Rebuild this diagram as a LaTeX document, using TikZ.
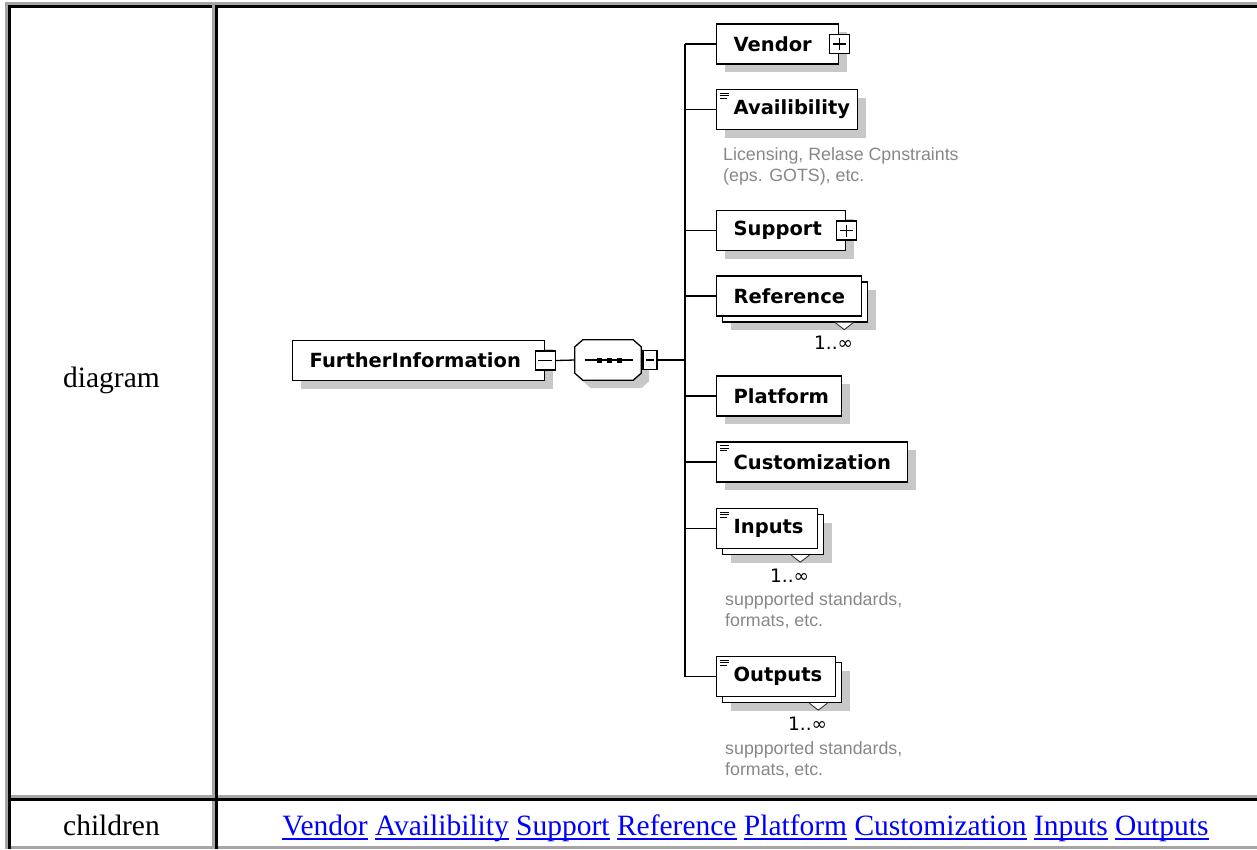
\documentclass[tikz,border=0pt]{standalone}
\usepackage{fontspec}
\usetikzlibrary{shadows}
\setmainfont{Liberation Serif}
\newfontfamily\lblfont{DejaVu Sans}
\newfontfamily\notefont{Liberation Sans}
\definecolor{shade}{RGB}{200,200,200}
\definecolor{framegray}{RGB}{165,165,165}
\definecolor{notegray}{RGB}{135,135,135}
\definecolor{linkblue}{RGB}{0,0,255}
% underlined hyperlink word, rule at a fixed depth
\newcommand\lnkw[1]{\setbox0=\hbox{#1}\rlap{\rule[-5pt]{\wd0}{2pt}}\box0\relax}
\begin{document}
\begin{tikzpicture}[x=1pt, y=-1pt,
  conn/.style={line width=1.3pt},
  elbase/.style={draw, line width=1.3pt, fill=white, minimum height=40pt,
    inner xsep=17pt, inner ysep=0pt, align=left, anchor=west,
    font=\lblfont\bfseries\fontsize{19.5}{22}\selectfont},
  el/.style={elbase, drop shadow={shadow xshift=8pt, shadow yshift=-8pt, fill=shade, draw=none, opacity=1}},
  multi/.style={elbase,
    drop shadow={shadow xshift=14pt, shadow yshift=-14pt, fill=shade, draw=none, opacity=1},
    copy shadow={shadow xshift=6pt, shadow yshift=-6pt, draw=black, fill=white, line width=1.3pt, opacity=1}},
  pmbox/.style={draw, line width=1.3pt, fill=white, minimum width=20pt, minimum height=19pt, inner sep=0pt},
  minusbox/.style={pmbox, path picture={
      \draw[line width=1.3pt] ([xshift=3pt]path picture bounding box.west) -- ([xshift=-3pt]path picture bounding box.east);}},
  plusbox/.style={pmbox, path picture={
      \draw[line width=1.3pt] ([xshift=3.5pt]path picture bounding box.west) -- ([xshift=-3.5pt]path picture bounding box.east);
      \draw[line width=1.3pt] ([yshift=-3.5pt]path picture bounding box.north) -- ([yshift=3.5pt]path picture bounding box.south);}},
  note/.style={anchor=base west, align=left, inner sep=0pt, text=notegray,
    font=\notefont\fontsize{17.8}{21}\selectfont},
  card/.style={anchor=base east, inner sep=0pt, font=\lblfont\fontsize{18.5}{22}\selectfont},
  cell/.style={anchor=base, inner sep=0pt, font=\fontsize{29.5}{34}\selectfont}
]
\useasboundingbox (0,0) rectangle (1257,849);

% ---- table frame ----
\fill[framegray] (5,2) rectangle (1257,5);
\fill[framegray] (5,2) rectangle (8,849);
% cell: diagram label
\fill[black] (8,5) rectangle (212,8);
\fill[black] (8,5) rectangle (11,798);
\fill[framegray] (212,5) rectangle (215,798);
\fill[framegray] (11,795) rectangle (215,798);
% cell: diagram
\fill[black] (215,5) rectangle (1257,8);
\fill[black] (215,5) rectangle (218,798);
\fill[framegray] (218,795) rectangle (1257,798);
% cell: children label
\fill[black] (8,798) rectangle (215,801);
\fill[black] (8,798) rectangle (11,849);
\fill[framegray] (212,801) rectangle (215,849);
\fill[framegray] (11,846) rectangle (215,849);
% cell: children links
\fill[black] (215,798) rectangle (1257,801);
\fill[black] (215,798) rectangle (218,849);
\fill[framegray] (218,846) rectangle (1257,849);

\node[cell] (lbldiagram) at (111.5,387) {diagram};
\node[cell] (lblchildren) at (111.5,835) {children};
\node[cell, text=linkblue] (links) at (745.5,835)
  {\lnkw{Vendor} \lnkw{Availibility} \lnkw{Support} \lnkw{Reference} \lnkw{Platform} \lnkw{Customization} \lnkw{Inputs} \lnkw{Outputs}};

% ---- root element ----
\node[el, text width=218pt] (fi) at (292,360.5) {FurtherInformation};
\node[minusbox] (fim) at (fi.east) {};

% ---- sequence compositor ----
\node[minimum width=66pt, minimum height=40pt, inner sep=0pt] (seq) at (608,360) {};
\draw[line width=1.3pt, fill=white,
      drop shadow={shadow xshift=8pt, shadow yshift=-8pt, fill=shade, draw=none, opacity=1}]
  ([xshift=8pt]seq.north west) -- ([xshift=-8pt]seq.north east)
  -- ([yshift=-7pt]seq.north east) -- ([yshift=7pt]seq.south east)
  -- ([xshift=-8pt]seq.south east) -- ([xshift=8pt]seq.south west)
  -- ([yshift=7pt]seq.south west) -- ([yshift=-7pt]seq.north west) -- cycle;
\draw[line width=1.3pt] ([xshift=10pt]seq.west) -- ([xshift=-8pt]seq.east);
\foreach \dx in {-9,1,11}
  \fill ([shift={(\dx-2.5,-2.5)}]seq.center) rectangle ([shift={(\dx+2.5,2.5)}]seq.center);
\node[minusbox, minimum width=14pt] (sqm) at (650,360) {};

\draw[conn] (fim.east) -- (seq.west);
\draw[conn] (seq.east) -- (sqm.west);

% ---- child elements ----
\node[el, text width=88pt] (vendor) at (716,44) {Vendor};
\node[plusbox] (vendorp) at (vendor.east) {};
\node[el, text width=107pt] (avail) at (716,109.5) {Availibility};
\node[el, text width=95pt] (support) at (716,230.5) {Support};
\node[plusbox] (supportp) at (support.east) {};
\node[multi, text width=111pt] (reference) at (716,296) {Reference};
\node[el, text width=91pt] (platform) at (716,396) {Platform};
\node[el, text width=157pt] (custom) at (716,462) {Customization};
\node[multi, text width=67pt] (inputs) at (716,528.5) {Inputs};
\node[multi, text width=85pt] (outputs) at (716,676.5) {Outputs};

% documentation marks on annotated elements
\foreach \n in {avail,custom,inputs,outputs}{
  \draw[line width=1.1pt] ([shift={(4,4.5)}]\n.north west) -- ([shift={(13,4.5)}]\n.north west);
  \draw[line width=1.1pt] ([shift={(4,7)}]\n.north west) -- ([shift={(13,7)}]\n.north west);
  \draw[line width=1.1pt] ([shift={(4,9.5)}]\n.north west) -- ([shift={(11,9.5)}]\n.north west);
}

% occurrence marks and cardinalities on repeated elements
\foreach \n in {reference,inputs,outputs}{
  \filldraw[fill=white, draw=black!80, line width=0.9pt]
    ([shift={(-27,6)}]\n.south east) -- ([shift={(-18,13)}]\n.south east) -- ([shift={(-9,6)}]\n.south east);
  \node[card] (\n-card) at ([shift={(-9,33)}]\n.south east) {1..∞};
}

% ---- trunk and branches ----
\coordinate (trunk) at (685,360);
\draw[conn] (sqm.east) -- (trunk);
\draw[conn] (trunk |- vendor.west) -- (trunk |- outputs.west);
\foreach \n in {vendor,avail,support,reference,platform,custom,inputs,outputs}
  \draw[conn] (trunk |- \n.west) -- (\n.west);

% ---- annotations (anchor is the baseline of the last line) ----
\node[note] (availnote) at ([shift={(7,51)}]avail.south west) {Licensing, Relase Cpnstraints\\(eps. GOTS), etc.};
\node[note] (inputsnote) at ([shift={(9,77.5)}]inputs.south west) {suppported standards,\\formats, etc.};
\node[note] (outputsnote) at ([shift={(9,78)}]outputs.south west) {suppported standards,\\formats, etc.};
\end{tikzpicture}
\end{document}
